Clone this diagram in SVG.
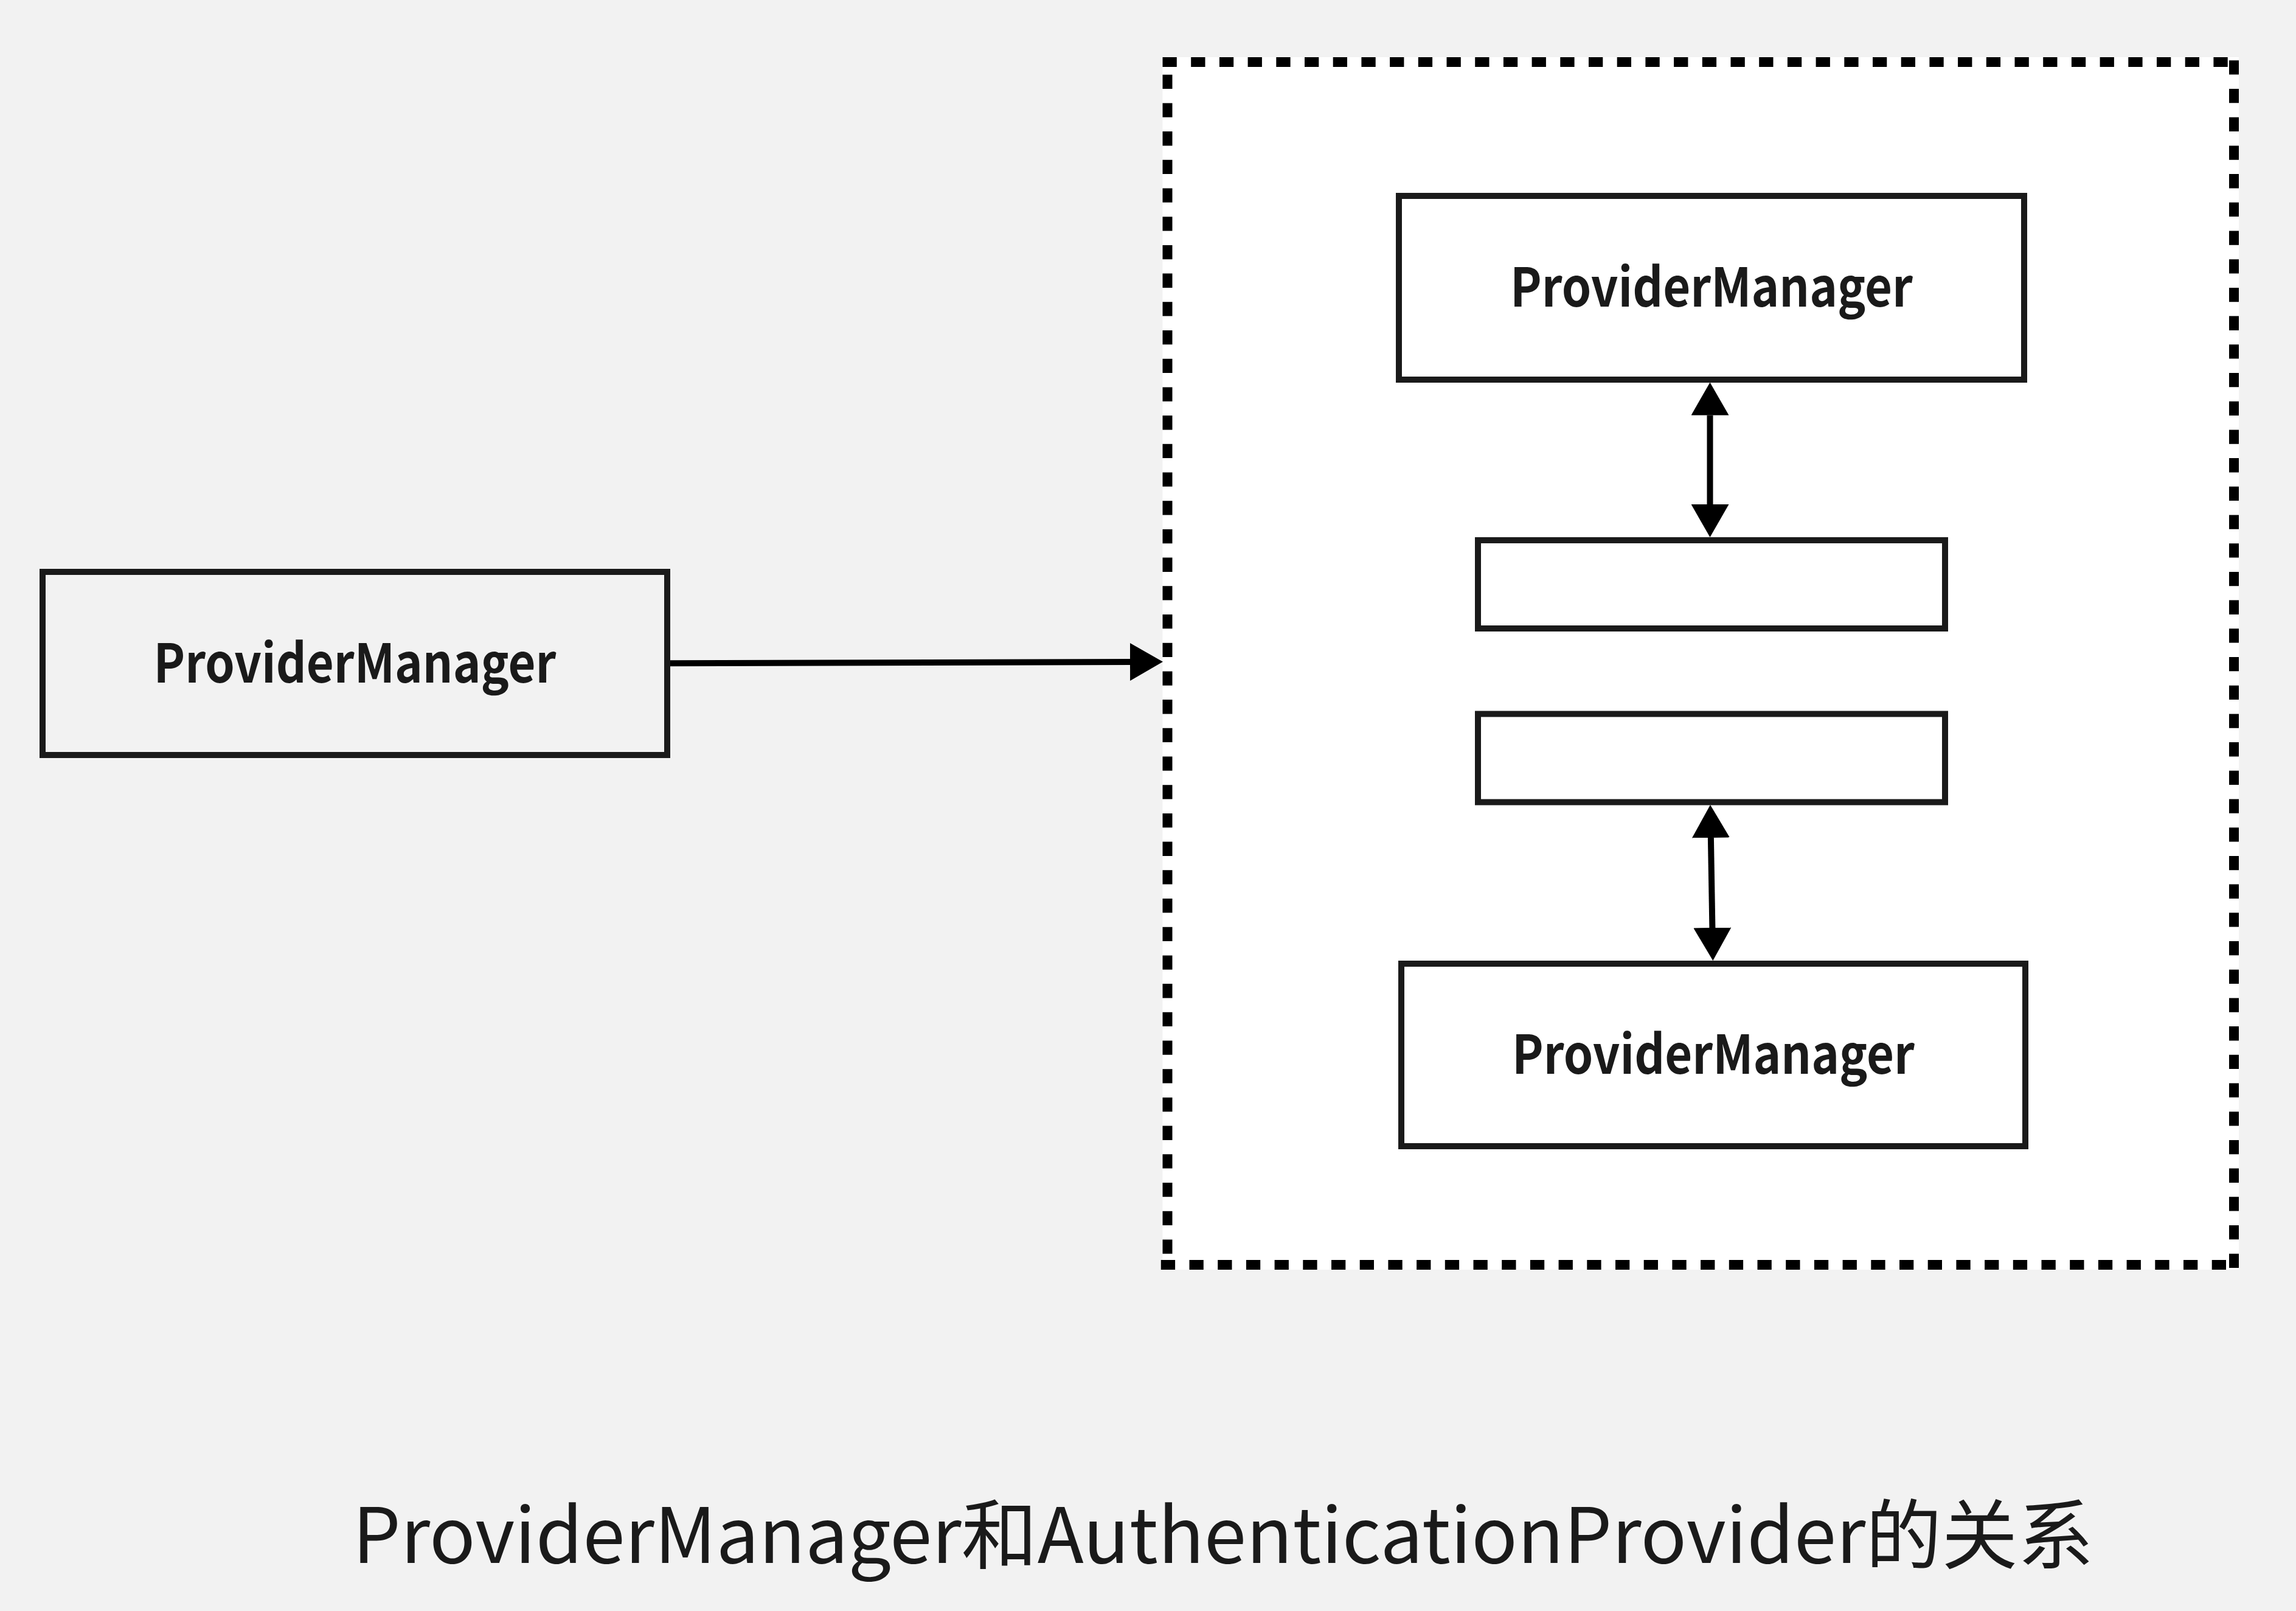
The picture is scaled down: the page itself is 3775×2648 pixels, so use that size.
<svg xmlns="http://www.w3.org/2000/svg" width="3775" height="2648" viewBox="0 0 3775 2648">
<style>
.box{fill:#f2f2f2;stroke:#1a1a1a;stroke-width:10}
.inner{fill:#ffffff;stroke:#1a1a1a;stroke-width:10}
.lbl{font-family:"Noto Sans CJK SC","Noto Sans",sans-serif;font-size:88px;font-weight:700;fill:#1a1a1a;text-anchor:middle}
.cap{font-family:"Noto Sans CJK SC","Noto Sans",sans-serif;font-size:125px;font-weight:400;fill:#1a1a1a;text-anchor:middle}
.edge{fill:none;stroke:#000;stroke-width:10}
.dash{fill:none;stroke:#000;stroke-width:16;stroke-linecap:square;stroke-dasharray:7.3 39.4}
</style>
<defs>
<marker id="ah" markerUnits="userSpaceOnUse" markerWidth="54" markerHeight="62" refX="0" refY="31" orient="auto-start-reverse" viewBox="0 0 54 62">
<path d="M0,0 L54,31 L0,62 Z" fill="#000"/>
</marker>
</defs>
<rect x="0" y="0" width="3775" height="2648" fill="#f2f2f2"/>
<g id="container">
<rect x="1911.5" y="94" width="1769.5" height="1993" fill="#ffffff"/>
<path class="dash" d="M1919.5,102 H3673 M3673,107.3 V2079 M1916.8,2079 H3673 M1919.5,130.7 V2079"/>
</g>
<g id="node-left">
<rect class="box" x="70" y="940" width="1027" height="301"/>
<text class="lbl" x="583.5" y="1122" textLength="662" lengthAdjust="spacingAndGlyphs">ProviderManager</text>
</g>
<g id="node-top">
<rect class="inner" x="2300" y="322" width="1028" height="302"/>
<text class="lbl" x="2814" y="504" textLength="662" lengthAdjust="spacingAndGlyphs">ProviderManager</text>
</g>
<g id="node-mid1">
<rect class="inner" x="2430" y="888" width="768" height="145"/>
</g>
<g id="node-mid2">
<rect class="inner" x="2430" y="1173.5" width="768" height="145"/>
</g>
<g id="node-bottom">
<rect class="inner" x="2304" y="1584" width="1026" height="300"/>
<text class="lbl" x="2817" y="1765" textLength="662" lengthAdjust="spacingAndGlyphs">ProviderManager</text>
</g>
<g id="connectors">
<path class="edge" d="M1102,1090.3 L1858,1088" marker-end="url(#ah)"/>
<path class="edge" d="M2811.5,682.6 L2811.5,829" marker-start="url(#ah)" marker-end="url(#ah)"/>
<path class="edge" d="M2812.9,1377 L2815.4,1525" marker-start="url(#ah)" marker-end="url(#ah)"/>
</g>
<text class="cap" x="2011" y="2569">ProviderManager和AuthenticationProvider的关系</text>
</svg>
